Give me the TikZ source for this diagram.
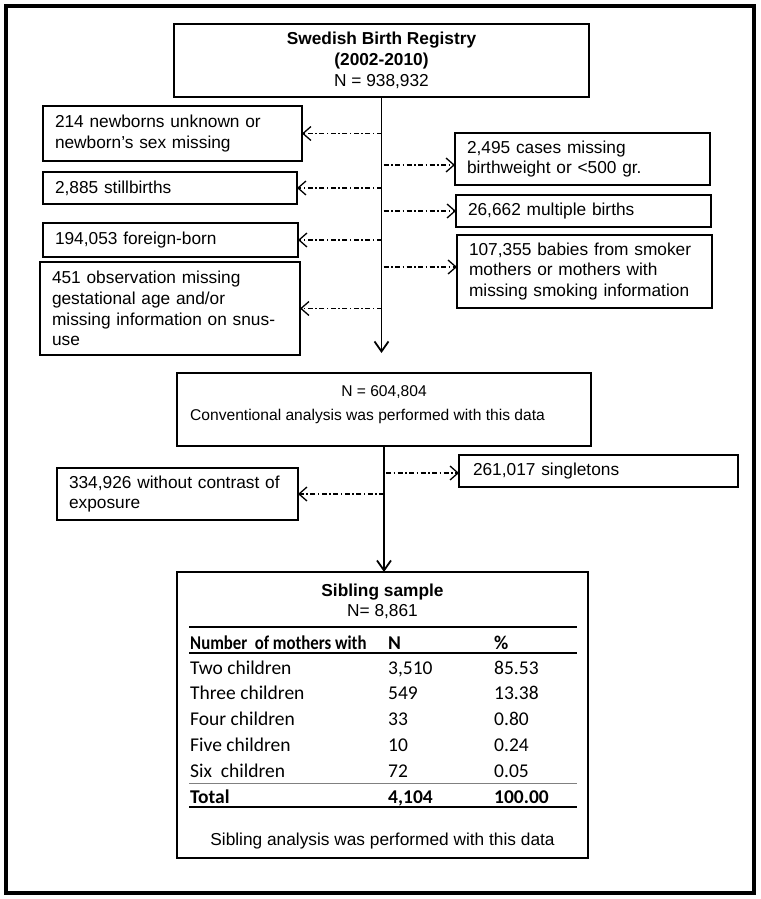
\documentclass[tikz,border=0pt]{standalone}
\usepackage{fontspec}
\setmainfont{Liberation Sans}
\newfontfamily\tabfont{Carlito}
\usetikzlibrary{arrows.meta,positioning}
\newcommand\bigfont{\fontsize{17.3}{20.8}\selectfont}
\newcommand\midfont{\fontsize{15.6}{19}\selectfont}
\newcommand\tabsize{\tabfont\fontsize{19.5}{22}\selectfont}
\tikzset{
 box/.style={draw,line width=2pt,inner sep=0pt,outer sep=0pt,font=\bigfont},
 lbox/.style={box,align=left,inner xsep=12pt},
 exarrow/.style={line width=1.3pt,dash pattern=on 5pt off 2.5pt on 1.5pt off 2.5pt,-{Straight Barb[length=8pt,width=14pt]}},
 mainarrow/.style={line width=1.8pt,-{Straight Barb[length=10pt,width=14pt]}},
 cell/.style={anchor=base west,inner sep=0pt,font=\tabsize},
}
\begin{document}
\begin{tikzpicture}[x=1pt,y=-1pt]
 \useasboundingbox (0,0) rectangle (760,899);
 \draw[line width=4pt] (5.5,6) rectangle (754,893);
 % registry and exclusions
 \node[box,align=center,minimum width=415pt,minimum height=73pt] (top) at (381.5,60.5)
  {\textbf{Swedish Birth Registry}\\ \textbf{(2002-2010)}\\ N = 938,932};
 \node[lbox,text width=235pt,minimum height=55pt] (l1) at (172.5,133.5) {214 newborns unknown or\\ newborn’s sex missing};
 \node[lbox,text width=230pt,minimum height=32pt] (l2) at (170,188) {2,885 stillbirths};
 \node[lbox,text width=231pt,minimum height=34pt] (l3) at (170.5,240) {194,053 foreign-born};
 \node[lbox,text width=236pt,minimum height=93pt] (l4) at (170,308.5) {451 observation missing\\ gestational age and/or\\ missing information on snus-\\ use};
 \node[lbox,text width=231pt,minimum height=52pt] (r1) at (582.5,159) {2,495 cases missing\\ birthweight or <500 gr.};
 \node[lbox,text width=231pt,minimum height=32pt] (r2) at (583.5,211) {26,662 multiple births};
 \node[lbox,text width=231pt,minimum height=73pt] (r3) at (584.5,271.5) {107,355 babies from smoker\\ mothers or mothers with\\ missing smoking information};
 \draw[mainarrow] (top.south) -- (top.south |- 0,353);
 \foreach \b in {l1,l2,l3,l4}
  \draw[exarrow] (top.south |- \b.east) -- (\b.east);
 \draw[exarrow] ([xshift=2pt]top.south |- 0,165) -- (r1.west |- 0,165);
 \draw[exarrow] ([xshift=2pt]top.south |- r2.west) -- (r2.west);
 \draw[exarrow] ([xshift=2pt]top.south |- 0,267) -- (r3.west |- 0,267);
 % conventional sample
 \node[box,minimum width=414pt,minimum height=73pt] (mid) at (384,409.5) {};
 \node[anchor=base,font=\midfont] (midn) at (384,396.7) {N = 604,804};
 \node[anchor=base,font=\midfont] (midc) at (367.5,420) {Conventional analysis was performed with this data};
 \node[lbox,text width=217pt,minimum height=52pt] (l5) at (177.5,494) {334,926 without contrast of\\ exposure};
 \node[lbox,inner xsep=14pt,text width=251pt,minimum height=32pt] (r4) at (598.5,471) {261,017 singletons};
 \draw[exarrow] (mid.south |- l5.east) -- (l5.east);
 \draw[exarrow] ([xshift=2pt]mid.south |- 0,473) -- (r4.west |- 0,473);
 % sibling sample
 \node[box,minimum width=411pt,minimum height=286pt] (sib) at (382.5,715) {};
 \draw[mainarrow] (mid.south) -- (mid.south |- sib.north);
 \node[anchor=base,font=\bigfont\bfseries] (sibt) at (382.5,596) {Sibling sample};
 \node[anchor=base,font=\bigfont] (sibn) at (382.5,616) {N= 8,861};
 \draw[line width=1.5pt] (189,627) -- (577,627);
 \draw[line width=1.5pt] (189,653) -- (577,653);
 \draw[line width=1pt,gray] (189,783) -- (577,783);
 \draw[line width=2pt] (189,807) -- (577,807);
 \node[cell,font=\tabsize\bfseries] (hlab) at (190,649) {\scalebox{0.86}[1]{Number\ \ of mothers with}};
 \node[cell,font=\tabsize\bfseries] (hn) at (388,649) {N};
 \node[cell,font=\tabsize\bfseries] (hp) at (494,649) {\%};
 \foreach \lab/\n/\p [count=\i] in {Two children/{3,510}/85.53,Three children/549/13.38,
   Four children/33/0.80,Five children/10/0.24,Six\ \ children/72/0.05}{
  \node[cell] (lab\i) at (190,674+25.9*\i-25.9) {\lab};
  \node[cell] (n\i) at (388,674+25.9*\i-25.9) {\n};
  \node[cell] (p\i) at (494,674+25.9*\i-25.9) {\p};
 }
 \node[cell,font=\tabsize\bfseries] (tlab) at (190,803.5) {Total};
 \node[cell,font=\tabsize\bfseries] (tn) at (388,803.5) {4,104};
 \node[cell,font=\tabsize\bfseries] (tp) at (494,803.5) {100.00};
 \node[anchor=base,font=\bigfont] (sibf) at (382.5,845) {Sibling analysis was performed with this data};
\end{tikzpicture}
\end{document}
